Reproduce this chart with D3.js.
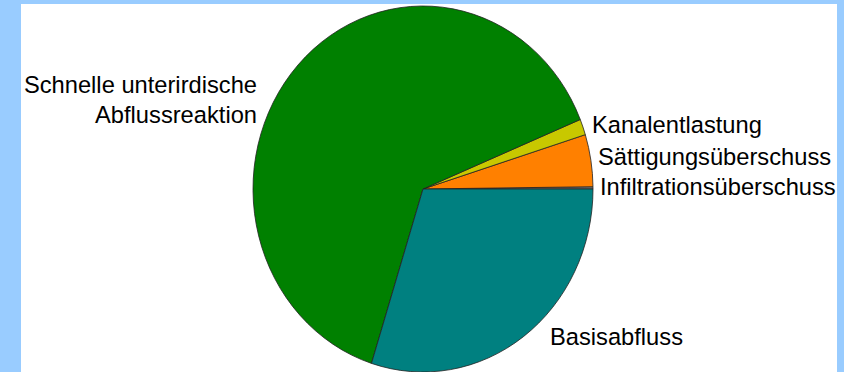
<!DOCTYPE html>
<html>
<head>
<meta charset="utf-8">
<script src="https://cdn.jsdelivr.net/npm/d3@7"></script>
<style>
  html, body { margin: 0; padding: 0; background: #99ccff; }
  svg { display: block; }
  text { font-family: "Liberation Sans", Arial, sans-serif; fill: #000; }
</style>
</head>
<body>
<script>
// ---- data ----
const categories = ["Infiltrationsüberschuss", "Sättigungsüberschuss", "Kanalentlastung", "Schnelle unterirdische Abflussreaktion", "Basisabfluss"];
const values = [0.2, 4.6, 1.4, 63.9, 29.9];
const colors = ["#7a7a7a", "#ff8000", "#c8c800", "#008000", "#008080"];
// label text lines
const labelLines = [["Infiltrationsüberschuss"], ["Sättigungsüberschuss"], ["Kanalentlastung"], ["Schnelle unterirdische", "Abflussreaktion"], ["Basisabfluss"]];

// ---- layout ----
const W = 844, H = 372;
const cx = 423, cy = 189, rx = 170, ry = 183;
const labelLayout = [
  {x: 600, y: 195, anchor: "start"},
  {x: 598, y: 165, anchor: "start"},
  {x: 592, y: 133, anchor: "start"},
  {x: 257, y: 93, anchor: "end"},
  {x: 550, y: 345, anchor: "start"}
];

const svg = d3.select("body").append("svg").attr("width", W).attr("height", H);
svg.append("rect").attr("x", 21).attr("y", 4).attr("width", 837 - 21).attr("height", H - 4).attr("fill", "#fff");

const data = categories.map((c, i) => ({name: c, value: values[i], color: colors[i], lines: labelLines[i], lay: labelLayout[i]}));

// start at 3 o'clock, go counter-clockwise
const pie = d3.pie().sort(null).value(d => d.value)
  .startAngle(Math.PI / 2).endAngle(Math.PI / 2 - 2 * Math.PI);
const arc = d3.arc().innerRadius(0).outerRadius(ry);

const g = svg.append("g").attr("transform", `translate(${cx},${cy}) scale(${rx / ry},1)`);
g.selectAll("path").data(pie(data)).join("path")
  .attr("d", arc)
  .attr("fill", d => d.data.color)
  .attr("stroke", "#222")
  .attr("stroke-width", 0.8)
  .attr("vector-effect", "non-scaling-stroke");

const fs = 23.7;
svg.selectAll("text.lbl").data(data).join("text")
  .attr("class", "lbl")
  .attr("x", d => d.lay.x)
  .attr("y", d => d.lay.y)
  .attr("text-anchor", d => d.lay.anchor)
  .attr("font-size", fs)
  .each(function(d) {
    const t = d3.select(this);
    d.lines.forEach((l, i) => {
      t.append("tspan").attr("x", d.lay.x).attr("dy", i === 0 ? 0 : 30).text(l);
    });
  });
</script>
</body>
</html>
